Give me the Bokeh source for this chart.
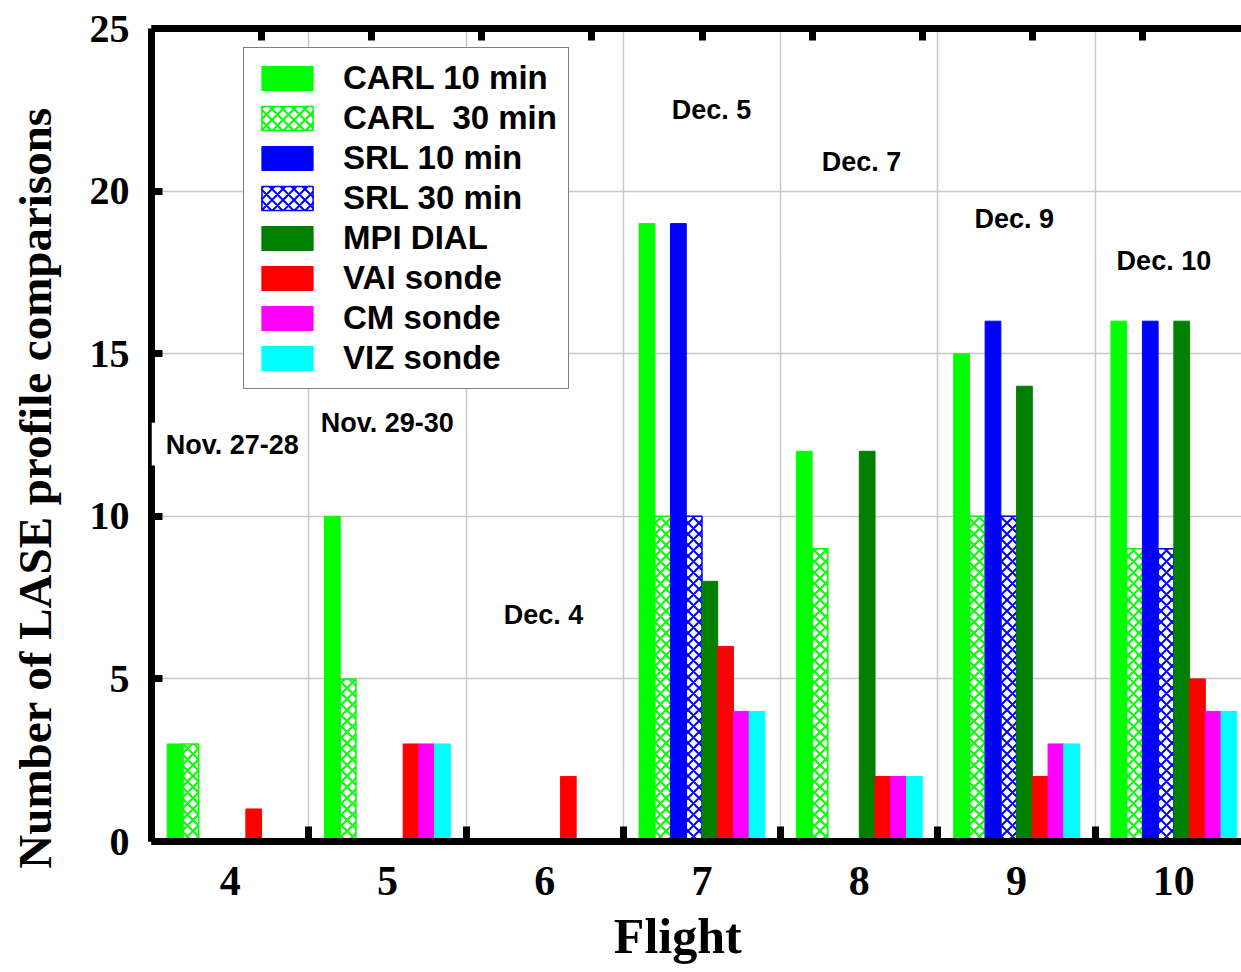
from bokeh.plotting import figure
from bokeh.models import ColumnDataSource, FixedTicker, LinearAxis, Label, BoxAnnotation, Grid
from bokeh.transform import dodge
from bokeh.embed import file_html
from bokeh.resources import INLINE

# ---------------- data ----------------
flights = [4, 5, 6, 7, 8, 9, 10]
carl_10 = [3, 10, 0, 19, 12, 15, 16]
carl_30 = [3, 5, 0, 10, 9, 10, 9]
srl_10 = [0, 0, 0, 19, 0, 16, 16]
srl_30 = [0, 0, 0, 10, 0, 10, 9]
mpi_dial = [0, 0, 0, 8, 12, 14, 16]
vai_sonde = [1, 3, 2, 6, 2, 2, 5]
cm_sonde = [0, 3, 0, 4, 2, 3, 4]
viz_sonde = [0, 3, 0, 4, 2, 3, 4]

series_keys = ["carl_10", "carl_30", "srl_10", "srl_30", "mpi_dial", "vai_sonde", "cm_sonde", "viz_sonde"]
series_names = ["CARL 10 min", "CARL  30 min", "SRL 10 min", "SRL 30 min",
                "MPI DIAL", "VAI sonde", "CM sonde", "VIZ sonde"]
date_labels = ["Nov. 27-28", "Nov. 29-30", "Dec. 4", "Dec. 5", "Dec. 7", "Dec. 9", "Dec. 10"]
y_ticks = [0, 5, 10, 15, 20, 25]
x_title = "Flight"
y_title = "Number of LASE profile comparisons"

# ---------------- styles / placement ----------------
colors = ["#00ff00", "#00ff00", "#0000ff", "#0000ff", "#007f00", "#ff0000", "#ff00ff", "#00ffff"]
hatched = [False, True, False, True, False, False, False, False]
date_x = [3.59, 4.576, 5.739, 6.807, 7.761, 8.733, 9.636]
date_y = [12.18, 12.88, 6.95, 22.48, 20.91, 19.13, 17.84]
NBSP = "\u00a0"

SERIF = "Liberation Serif"
SANS = "Liberation Sans"

src = ColumnDataSource(dict(flight=flights, carl_10=carl_10, carl_30=carl_30, srl_10=srl_10,
                            srl_30=srl_30, mpi_dial=mpi_dial, vai_sonde=vai_sonde,
                            cm_sonde=cm_sonde, viz_sonde=viz_sonde))

p = figure(width=1241, height=972, x_range=(3.5, 10.43), y_range=(0, 25),
           output_backend="svg", toolbar_location=None,
           min_border_left=151, min_border_right=0, min_border_top=28, min_border_bottom=131)
p.outline_line_color = None
p.xaxis.visible = False
p.yaxis.visible = False
p.xgrid.visible = False
p.ygrid.visible = False

for i, key in enumerate(series_keys):
    off = (i - 3.5) * 0.1
    kw = dict(x=dodge("flight", off, range=p.x_range), top=key, width=0.1, bottom=0,
              source=src, legend_label=series_names[i])
    if hatched[i]:
        p.vbar(**kw, fill_color=None, line_color=colors[i], line_width=1.5,
               hatch_pattern="diagonal_cross", hatch_color=colors[i],
               hatch_weight=2, hatch_scale=11)
    else:
        p.vbar(**kw, fill_color=colors[i], line_color=colors[i], line_width=1)

boundaries = [f + 0.5 for f in [3] + flights]

# bottom axis
xax = LinearAxis(ticker=FixedTicker(ticks=flights, minor_ticks=boundaries))
xax.axis_line_width = 7
xax.major_tick_line_color = None
xax.minor_tick_line_color = "black"
xax.minor_tick_line_width = 7
xax.minor_tick_in = 15
xax.minor_tick_out = 0
xax.major_label_text_font = SERIF
xax.major_label_text_font_style = "bold"
xax.major_label_text_font_size = "42px"
xax.major_label_text_color = "black"
xax.major_label_standoff = 19
xax.axis_label = x_title + NBSP * 3
xax.axis_label_text_font = SERIF
xax.axis_label_text_font_style = "bold"
xax.axis_label_text_font_size = "50px"
xax.axis_label_text_color = "black"
xax.axis_label_text_baseline = "hanging"
xax.axis_label_standoff = 10
p.add_layout(xax, "below")

# top axis (ticks only, no labels)
top_ticks = [3.5 + 0.7 * k for k in range(1, 10)]
tax = LinearAxis(ticker=FixedTicker(ticks=[], minor_ticks=top_ticks))
tax.axis_line_width = 7
tax.major_tick_line_color = None
tax.minor_tick_line_color = "black"
tax.minor_tick_line_width = 7
tax.minor_tick_in = 12
tax.minor_tick_out = 0
tax.major_label_standoff = 0
p.add_layout(tax, "above")

# left axis
yax = LinearAxis(ticker=FixedTicker(ticks=y_ticks))
yax.axis_line_width = 7
yax.major_tick_line_width = 7
yax.major_tick_in = 11
yax.major_tick_out = 0
yax.minor_tick_line_color = None
yax.major_label_text_font = SERIF
yax.major_label_text_font_style = "bold"
yax.major_label_text_font_size = "40px"
yax.major_label_text_color = "black"
yax.major_label_standoff = 22
yax.axis_label = y_title + NBSP * 9
yax.axis_label_text_font = SERIF
yax.axis_label_text_font_style = "bold"
yax.axis_label_text_font_size = "47px"
yax.axis_label_text_color = "black"
yax.axis_label_standoff = 26
p.add_layout(yax, "left")

# grids
gx = Grid(dimension=0, ticker=xax.ticker, grid_line_color=None,
          minor_grid_line_color="#c8c8c8", minor_grid_line_width=1.5, level="underlay")
gy = Grid(dimension=1, ticker=yax.ticker, grid_line_color="#c8c8c8", grid_line_width=1.5,
          level="underlay")
p.add_layout(gx)
p.add_layout(gy)

# date labels (white box behind the first one covers part of the axis line)
p.add_layout(BoxAnnotation(left=3.5, right=4.45, bottom=11.56, top=12.88,
                           fill_color="white", fill_alpha=1, line_color=None))
for t, x, y in zip(date_labels, date_x, date_y):
    p.add_layout(Label(x=x, y=y, text=t, text_font=SANS, text_font_style="bold",
                       text_font_size="27px", text_color="black",
                       text_align="left", text_baseline="middle"))

# legend
lg = p.legend[0]
lg.location = (92, 452)
lg.margin = 0
lg.padding = 11
lg.spacing = 2
lg.glyph_width = 64
lg.glyph_height = 30
lg.label_height = 30
lg.label_standoff = 24
lg.label_text_font = SANS
lg.label_text_font_style = "bold"
lg.label_text_font_size = "33px"
lg.label_text_color = "black"
lg.border_line_color = "black"
lg.border_line_width = 1.5
lg.background_fill_color = "white"
lg.background_fill_alpha = 1

open("out.html", "w").write(file_html(p, INLINE))
